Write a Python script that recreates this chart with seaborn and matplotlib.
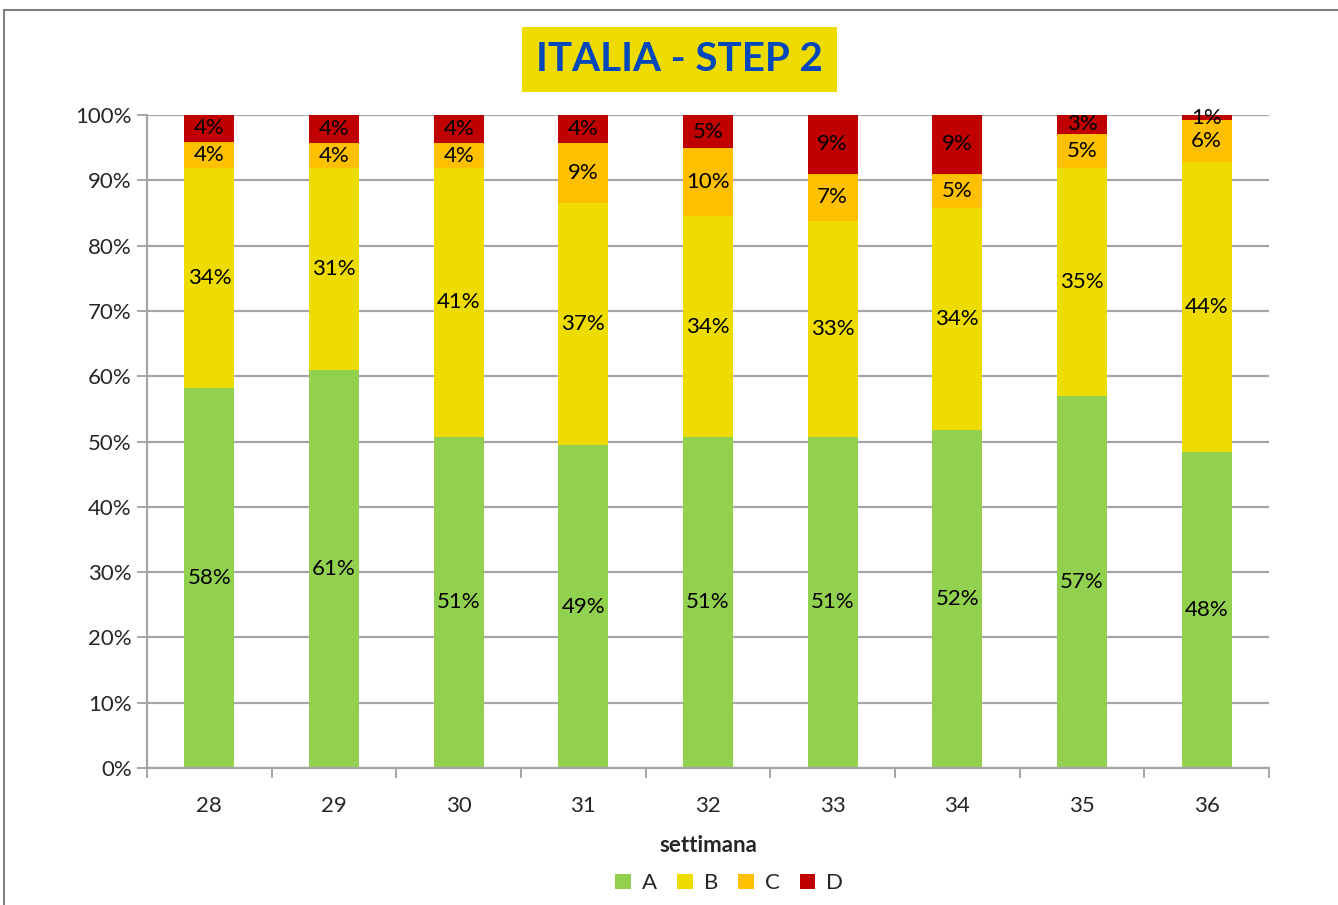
import numpy as np
import pandas as pd
import matplotlib
matplotlib.use("Agg")
import matplotlib.pyplot as plt
import seaborn as sns
from matplotlib.patches import Patch
from matplotlib.lines import Line2D
from matplotlib.ticker import FixedLocator, PercentFormatter

# ======================================
# DATA
# ======================================

weeks = ["28", "29", "30", "31", "32", "33", "34", "35", "36"]
share_a = [58.2, 60.9, 50.7, 49.4, 50.7, 50.7, 51.8, 57.0, 48.4]
share_b = [33.7, 31.0, 41.2, 37.2, 33.8, 33.1, 34.0, 34.9, 44.4]
share_c = [4.0, 3.8, 3.8, 9.1, 10.4, 7.2, 5.2, 5.2, 6.4]
share_d = [4.1, 4.3, 4.3, 4.3, 5.1, 9.0, 9.0, 2.9, 0.8]
series = ["A", "B", "C", "D"]
colors = ["#92D050", "#EEDC00", "#FFC000", "#C00000"]

df = pd.DataFrame({"settimana": weeks, "A": share_a, "B": share_b,
                   "C": share_c, "D": share_d})
for i, s in enumerate(series):
    df["cum_" + s] = df[series[:i + 1]].sum(axis=1)

# ======================================
# PLOT
# ======================================

sns.set_style("white")
plt.rcParams["font.family"] = ["Lato", "DejaVu Sans"]

fig = plt.figure(figsize=(13.38, 9.05), dpi=100)
ax = fig.add_axes([0.1099, 0.1514, 0.8385, 0.7215])

# stacked bars: draw cumulative totals from top to bottom
for s, c in reversed(list(zip(series, colors))):
    sns.barplot(data=df, x="settimana", y="cum_" + s, color=c,
                width=0.4, saturation=1, order=weeks, ax=ax, linewidth=0)

# segment labels
for i in range(len(weeks)):
    base = 0
    for s in series:
        v = df.loc[i, s]
        ax.text(i, base + v / 2, f"{round(v):.0f}%", ha="center", va="center",
                fontsize=16, color="black", zorder=5)
        base += v

ax.set_ylim(0, 100)
ax.set_xlim(-0.5, len(weeks) - 0.5)
ax.set_yticks(np.arange(0, 101, 10))
ax.yaxis.set_major_formatter(PercentFormatter(decimals=0))
ax.yaxis.grid(True, color="#A6A6A6", linewidth=1.6)
ax.set_axisbelow(True)

# excel style ticks between categories
ax.xaxis.set_major_locator(FixedLocator(range(len(weeks))))
ax.xaxis.set_minor_locator(FixedLocator(np.arange(-0.5, len(weeks), 1)))
ax.tick_params(axis="x", which="major", length=0, pad=20, labelsize=16)
ax.tick_params(axis="x", which="minor", length=7, width=1.4,
               color="#A6A6A6", direction="out")
ax.tick_params(axis="y", length=7, width=1.4, color="#A6A6A6",
               direction="out", labelsize=16, pad=4)
ax.yaxis.set_ticks_position("left")
ax.xaxis.set_ticks_position("bottom")

for side in ["top", "right"]:
    ax.spines[side].set_visible(False)
for side in ["left", "bottom"]:
    ax.spines[side].set_color("#A6A6A6")
    ax.spines[side].set_linewidth(1.6)

ax.set_xlabel("settimana", fontsize=16, fontweight="bold", labelpad=14)
ax.set_ylabel("")

# title in a yellow box
fig.text(0.508, 0.934, "ITALIA - STEP 2", ha="center", va="center",
         fontsize=29, fontweight="bold", color="#0047BB",
         bbox=dict(boxstyle="square,pad=0.35", facecolor="#EEDC00",
                   edgecolor="none"))

# legend
handles = [Patch(facecolor=c, edgecolor="none", label=s)
           for s, c in zip(series, colors)]
fig.legend(handles=handles, loc="center", bbox_to_anchor=(0.545, 0.024),
           ncol=4, frameon=False, fontsize=16, handlelength=0.7,
           handleheight=0.7, handletextpad=0.5, columnspacing=0.9)

# chart frame
fig.add_artist(Line2D([0.003, 0.003], [0, 0.989], color="#808080",
                      linewidth=1.5, transform=fig.transFigure))
fig.add_artist(Line2D([0.003, 1.0], [0.989, 0.989], color="#808080",
                      linewidth=1.5, transform=fig.transFigure))

fig.savefig("out.png", dpi=100)
